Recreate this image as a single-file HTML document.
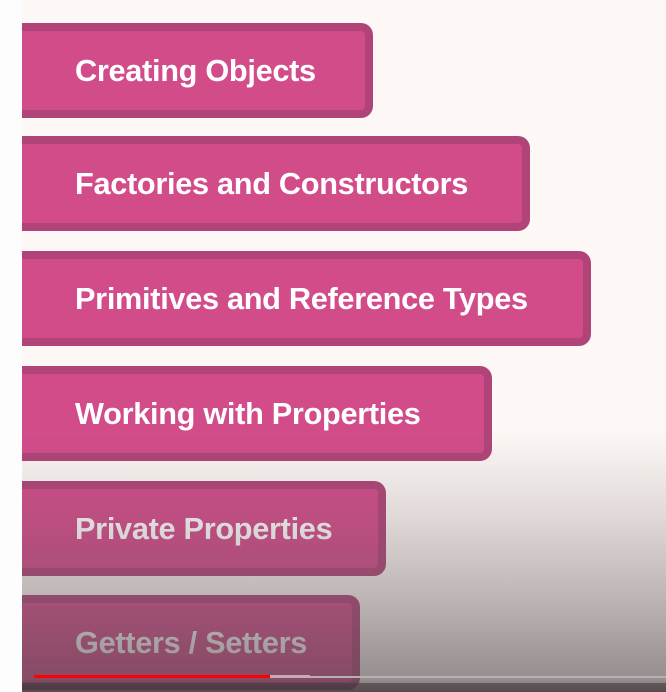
<!DOCTYPE html>
<html><head><style>
html,body{margin:0;padding:0}
body{width:666px;height:692px;position:relative;overflow:hidden;background:#fdf8f5;font-family:"Liberation Sans",sans-serif}
.strip{position:absolute;left:0;top:0;width:22px;height:692px;background:#fdfdfd}
.b{position:absolute;left:22px;height:79px;background:#d24c8a;border:8px solid #b04478;border-left:none;border-radius:0 12px 12px 0;box-sizing:content-box}
.b span{position:absolute;left:53px;top:22px;color:#fff;font-weight:bold;font-size:31px;white-space:nowrap;transform:scaleX(0.99);transform-origin:left center;letter-spacing:-0.3px}
.ov{position:absolute;left:22px;top:0;width:644px;height:692px;background:linear-gradient(to bottom,rgba(100,85,90,0) 0px,rgba(100,85,90,0) 430px,rgba(100,85,90,0.2) 520px,rgba(100,85,90,0.42) 600px,rgba(85,75,78,0.62) 680px,rgba(60,50,55,0.75) 692px)}
.red{position:absolute;left:34px;top:675px;width:236px;height:3px;background:#f00}
.buf{position:absolute;left:270px;top:675px;width:40px;height:3px;background:#c9a8b8}
.line{position:absolute;left:310px;top:676px;width:356px;height:2px;background:#b8b0b0}
.ctrl{position:absolute;left:22px;top:683px;width:644px;height:9px;background:rgba(70,60,65,0.6)}
</style></head><body>
<div class="strip"></div>
<div class="b" style="top:23px;width:343px"><span>Creating Objects</span></div>
<div class="b" style="top:136px;width:500px"><span>Factories and Constructors</span></div>
<div class="b" style="top:251px;width:561px"><span>Primitives and Reference Types</span></div>
<div class="b" style="top:366px;width:462px"><span>Working with Properties</span></div>
<div class="b" style="top:481px;width:356px"><span>Private Properties</span></div>
<div class="b" style="top:595px;width:330px"><span>Getters / Setters</span></div>
<div class="ov"></div>
<div class="line"></div>
<div class="red"></div>
<div class="buf"></div>
<div class="ctrl"></div>
</body></html>
